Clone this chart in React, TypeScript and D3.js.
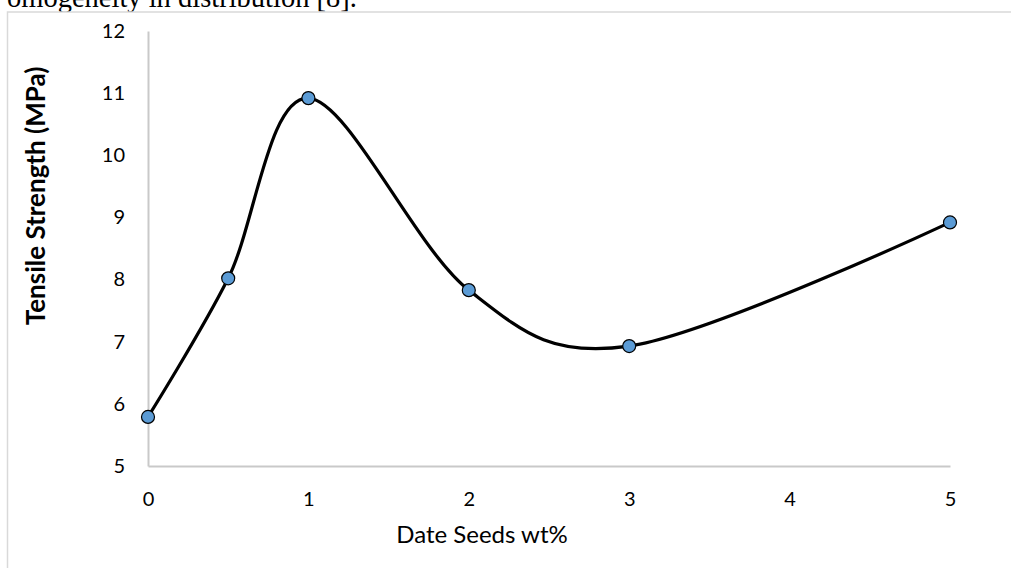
import React, { useEffect, useRef } from "react";
import * as d3 from "d3";

// Date seed content (wt%) vs tensile strength (MPa)
const dateSeedsWt = [0, 0.5, 1, 2, 3, 5];
const tensileMPa = [5.79, 8.02, 10.92, 7.83, 6.93, 8.92];
const xTicks = [0, 1, 2, 3, 4, 5];
const yTicks = [5, 6, 7, 8, 9, 10, 11, 12];

const xTitle = "Date Seeds wt%";
const yTitle = "Tensile Strength (MPa)";
const pageText = "omogeneity in distribution [8].";

function App() {
  const ref = useRef<SVGSVGElement | null>(null);

  useEffect(() => {
    const svg = d3.select(ref.current);
    svg.selectAll("*").remove();

    const width = 1011,
      height = 568;
    const left = 148,
      right = 950,
      top = 31,
      bottom = 466;

    // cut-off line of the surrounding document
    svg
      .append("text")
      .attr("x", 7)
      .attr("y", 7)
      .style("font-family", "'Liberation Serif', 'Times New Roman', serif")
      .style("font-size", "28.5px")
      .attr("fill", "#000")
      .text(pageText);

    // chart frame
    svg
      .append("rect")
      .attr("x", 7.5)
      .attr("y", 12)
      .attr("width", width + 20)
      .attr("height", height + 20)
      .attr("fill", "#fff")
      .attr("stroke", "#d9d9d9")
      .attr("stroke-width", 1.5);

    const x = d3.scaleLinear().domain([0, 5]).range([left, right]);
    const y = d3.scaleLinear().domain([5, 12]).range([bottom, top]);

    const font = "Lato, 'Open Sans', sans-serif";

    // axes
    const xAxis = svg
      .append("g")
      .attr("transform", "translate(0," + bottom + ")")
      .call(d3.axisBottom(x).tickValues(xTicks).tickSize(0).tickPadding(26).tickFormat(d3.format("d")));
    const yAxis = svg
      .append("g")
      .attr("transform", "translate(" + left + ",0)")
      .call(d3.axisLeft(y).tickValues(yTicks).tickSize(0).tickPadding(23).tickFormat(d3.format("d")));

    [xAxis, yAxis].forEach((g) => {
      g.select(".domain").attr("stroke", "#c9c9c9").attr("stroke-width", 2);
      g.selectAll("text")
        .style("font-family", font)
        .style("font-size", "20px")
        .attr("fill", "#000");
    });

    // axis titles
    svg
      .append("text")
      .attr("x", 482)
      .attr("y", 543)
      .attr("text-anchor", "middle")
      .style("font-family", font)
      .style("font-size", "24px")
      .attr("fill", "#000")
      .text(xTitle);

    svg
      .append("text")
      .attr("transform", "translate(45,196) rotate(-90)")
      .attr("text-anchor", "middle")
      .style("font-family", font)
      .style("font-size", "26px")
      .style("font-weight", "bold")
      .attr("fill", "#000")
      .text(yTitle);

    // smoothed line
    const pts: [number, number][] = dateSeedsWt.map((d, i) => [d, tensileMPa[i]]);
    const line = d3
      .line<[number, number]>()
      .x((d) => x(d[0]))
      .y((d) => y(d[1]))
      .curve(d3.curveCardinal.tension(0));

    svg
      .append("path")
      .datum(pts)
      .attr("d", line)
      .attr("fill", "none")
      .attr("stroke", "#000")
      .attr("stroke-width", 3.2);

    svg
      .append("g")
      .selectAll("circle")
      .data(pts)
      .enter()
      .append("circle")
      .attr("cx", (d) => x(d[0]))
      .attr("cy", (d) => y(d[1]))
      .attr("r", 6.5)
      .attr("fill", "#5b9bd5")
      .attr("stroke", "#000")
      .attr("stroke-width", 1.2);
  }, []);

  return (
    <svg
      ref={ref}
      width={1011}
      height={568}
      style={{ position: "absolute", left: 0, top: 0, background: "#fff" }}
    ></svg>
  );
}

export default App;
